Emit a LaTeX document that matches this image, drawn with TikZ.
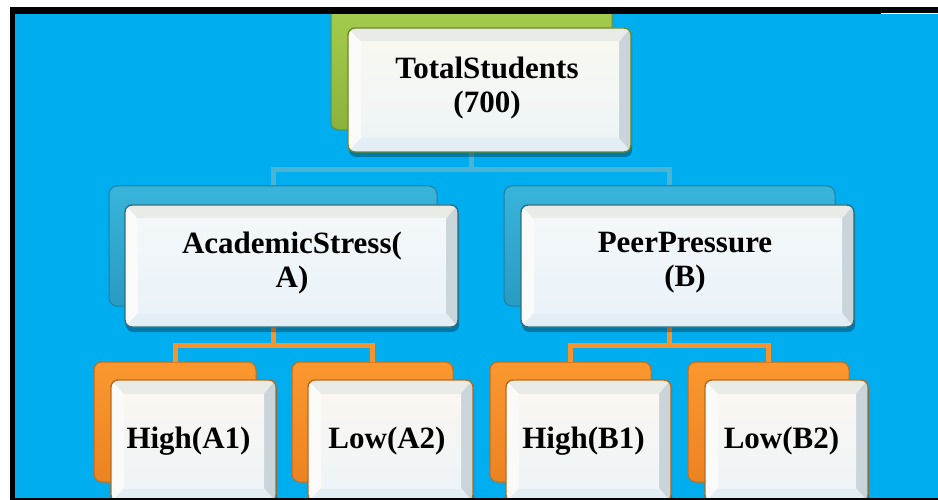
\documentclass[tikz,border=0pt]{standalone}
\usepackage{fontspec}
\setmainfont{Liberation Serif}
\usetikzlibrary{calc}
\definecolor{bgblue}{HTML}{00AEEF}
\definecolor{gTop}{HTML}{A6CC4E}\definecolor{gBot}{HTML}{8DB23B}\definecolor{gLine}{HTML}{6F8E2C}
\definecolor{tTop}{HTML}{38B4DA}\definecolor{tBot}{HTML}{2A9BC3}\definecolor{tLine}{HTML}{1F7FA3}
\definecolor{oTop}{HTML}{FA982F}\definecolor{oBot}{HTML}{EC8322}\definecolor{oLine}{HTML}{C96A17}
\definecolor{gEdge}{HTML}{6A8A27}\definecolor{tEdge}{HTML}{2B6E82}\definecolor{oEdge}{HTML}{B56A1E}
\definecolor{bevT}{HTML}{E9EBE7}\definecolor{bevR}{HTML}{C9D4DB}\definecolor{bevB}{HTML}{E3EDF4}\definecolor{bevL}{HTML}{FAFAF8}
\definecolor{gFaceT}{HTML}{F8F8F1}\definecolor{gFaceB}{HTML}{EEF4F6}
\definecolor{tFaceT}{HTML}{F3F7F9}\definecolor{tFaceB}{HTML}{EAF3F9}
\definecolor{oFaceT}{HTML}{FBF6F1}\definecolor{oFaceB}{HTML}{EEF4F8}
\definecolor{connBlue}{HTML}{4BB3D3}\definecolor{connOrange}{HTML}{F7942D}
\tikzset{
  facetop/.store in=\facetopc, facebot/.store in=\facebotc,
  facetop=white, facebot=white,
  back/.style={rounded corners=8pt, line width=1pt, inner sep=0pt},
  gback/.style={back, top color=gTop, bottom color=gBot, draw=gLine},
  tback/.style={back, top color=tTop, bottom color=tBot, draw=tLine},
  oback/.style={back, top color=oTop, bottom color=oBot, draw=oLine},
  front/.style={draw, rounded corners=7pt, line width=1.4pt, inner sep=0pt, fill=bevR,
    path picture={
      \coordinate (pNW) at (path picture bounding box.north west);
      \coordinate (pSE) at (path picture bounding box.south east);
      \coordinate (pNE) at (pSE|-pNW); \coordinate (pSW) at (pNW|-pSE);
      \coordinate (iNW) at ($(pNW)+(13pt,-14pt)$);
      \coordinate (iSE) at ($(pSE)+(-12pt,14pt)$);
      \coordinate (iNE) at (iSE|-iNW); \coordinate (iSW) at (iNW|-iSE);
      \fill[sharp corners,bevT] (pNW) -- (pNE) -- (iNE) -- (iNW) -- cycle;
      \fill[sharp corners,bevR] (pNE) -- (pSE) -- (iSE) -- (iNE) -- cycle;
      \fill[sharp corners,bevB] (pSE) -- (pSW) -- (iSW) -- (iSE) -- cycle;
      \fill[sharp corners,bevL] (pSW) -- (pNW) -- (iNW) -- (iSW) -- cycle;
      \shade[sharp corners,top color=\facetopc, bottom color=\facebotc] (iNW) rectangle (iSE);
    }},
  gfront/.style={front, draw=gEdge, facetop=gFaceT, facebot=gFaceB},
  tfront/.style={front, draw=tEdge, facetop=tFaceT, facebot=tFaceB},
  ofront/.style={front, draw=oEdge, facetop=oFaceT, facebot=oFaceB},
  shade box/.style={rounded corners=7pt, fill=black, opacity=0.3},
  bconn/.style={draw=connBlue, line width=5pt},
  oconn/.style={draw=connOrange, line width=5pt},
  txt/.style={font=\bfseries\fontsize{31}{34}\selectfont, align=center, inner sep=0pt, text=black}
}
\newcommand{\mkfront}[6]{%
  \fill[shade box] (#2-#4/2+1, #3-#5/2+3) rectangle (#2+#4/2+1, #3+#5/2+5);
  \node[#6, minimum width=#4pt, minimum height=#5pt] (#1) at (#2,#3) {};
}
\begin{document}
\begin{tikzpicture}[x=1pt,y=-1pt]
\useasboundingbox (0,0) rectangle (938,500);
\fill[white] (0,0) rectangle (938,500);
\fill[bgblue] (15,14) rectangle (938,498);
\begin{scope}
\clip (15,14) rectangle (938,498);
% back boxes
\node[gback, minimum width=281pt, minimum height=124pt] (tb) at (471.5,68) {};
\node[tback, minimum width=328pt, minimum height=120pt] (lb) at (273,246) {};
\node[tback, minimum width=331pt, minimum height=120pt] (rb) at (669.5,246) {};
\node[oback, minimum width=162pt, minimum height=120pt] (a1) at (175,422) {};
\node[oback, minimum width=161pt, minimum height=120pt] (a2) at (372.5,422) {};
\node[oback, minimum width=161pt, minimum height=120pt] (b1) at (570.5,422) {};
\node[oback, minimum width=161pt, minimum height=120pt] (b2) at (768.5,422) {};
% connectors
\coordinate (j0) at (0,170);
\coordinate (ja) at (0,345);
\draw[bconn] (tb.south) -- (tb.south |- j0) -| (lb.north);
\draw[bconn] (tb.south |- j0) -| (rb.north);
\draw[oconn] (lb.south) -- (lb.south |- ja) -| (a1.north);
\draw[oconn] (lb.south |- ja) -| (a2.north);
\draw[oconn] (rb.south) -- (rb.south |- ja) -| (b1.north);
\draw[oconn] (rb.south |- ja) -| (b2.north);
% front boxes
\mkfront{tf}{489.5}{90}{283}{124}{gfront}
\mkfront{lf}{291.5}{266}{333}{122}{tfront}
\mkfront{rf}{687.5}{266}{333}{122}{tfront}
\mkfront{a1f}{193.5}{441}{165}{122}{ofront}
\mkfront{a2f}{390.5}{441}{165}{122}{ofront}
\mkfront{b1f}{588.5}{441}{165}{122}{ofront}
\mkfront{b2f}{786.5}{441}{163}{122}{ofront}
% texts
\node[txt] (t0) at (487,88) {TotalStudents\\(700)};
\node[txt] (tl) at (292,263) {AcademicStress(\\A)};
\node[txt] (tr) at (685,263) {PeerPressure\\(B)};
\node[txt, anchor=base] (ta1) at (188.5,448) {High(A1)};
\node[txt, anchor=base] (ta2) at (387,448) {Low(A2)};
\node[txt, anchor=base] (tb1) at (583.5,448) {High(B1)};
\node[txt, anchor=base] (tb2) at (781.5,448) {Low(B2)};
\end{scope}
% frame bars
\fill[black] (10,7) rectangle (881,14.5);
\fill[black] (881,7) rectangle (938,13);
\fill[black] (10,7) rectangle (15,500);
\fill[black] (10,497.5) rectangle (938,500);
\end{tikzpicture}
\end{document}
